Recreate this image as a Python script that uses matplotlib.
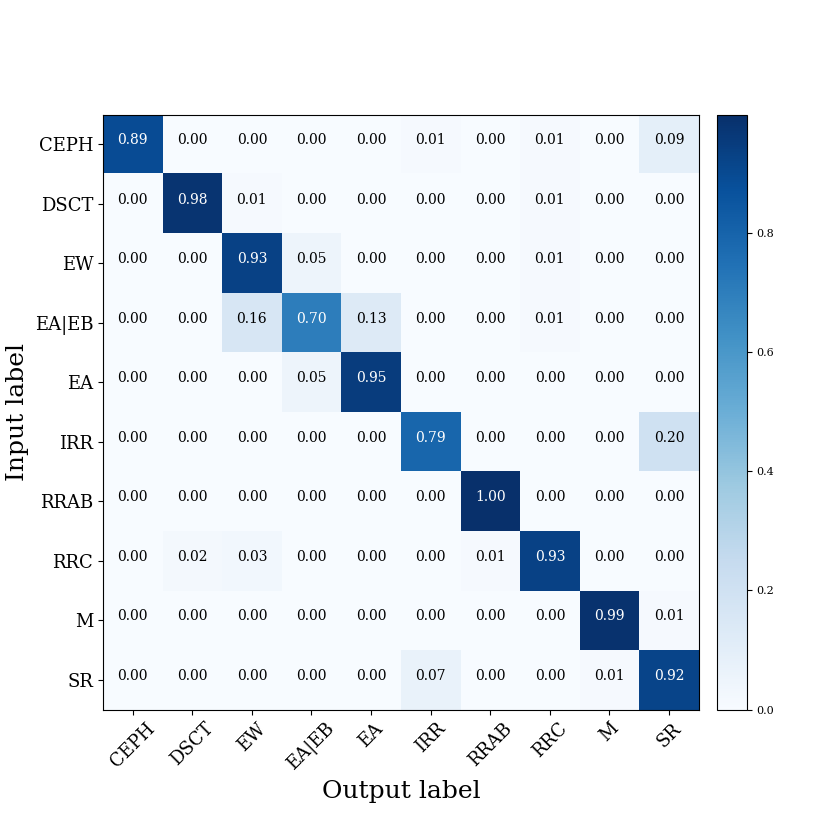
import numpy as np
import matplotlib
matplotlib.use("Agg")
import matplotlib.pyplot as plt

plt.rcParams["font.family"] = "DejaVu Serif"

classes = ["CEPH", "DSCT", "EW", "EA|EB", "EA", "IRR", "RRAB", "RRC", "M", "SR"]

cm = np.array([
    [0.89, 0.00, 0.00, 0.00, 0.00, 0.01, 0.00, 0.01, 0.00, 0.09],
    [0.00, 0.98, 0.01, 0.00, 0.00, 0.00, 0.00, 0.01, 0.00, 0.00],
    [0.00, 0.00, 0.93, 0.05, 0.00, 0.00, 0.00, 0.01, 0.00, 0.00],
    [0.00, 0.00, 0.16, 0.70, 0.13, 0.00, 0.00, 0.01, 0.00, 0.00],
    [0.00, 0.00, 0.00, 0.05, 0.95, 0.00, 0.00, 0.00, 0.00, 0.00],
    [0.00, 0.00, 0.00, 0.00, 0.00, 0.79, 0.00, 0.00, 0.00, 0.20],
    [0.00, 0.00, 0.00, 0.00, 0.00, 0.00, 0.998, 0.00, 0.00, 0.00],
    [0.00, 0.02, 0.03, 0.00, 0.00, 0.00, 0.01, 0.93, 0.00, 0.00],
    [0.00, 0.00, 0.00, 0.00, 0.00, 0.00, 0.00, 0.00, 0.99, 0.01],
    [0.00, 0.00, 0.00, 0.00, 0.00, 0.07, 0.00, 0.00, 0.01, 0.92],
])

fig = plt.figure(figsize=(8.3, 8.3), dpi=100)
ax = fig.add_axes([0.124, 0.145, 0.718, 0.717])
cax = fig.add_axes([0.864, 0.145, 0.036, 0.717])

# colour range follows the data, so no 1.0 tick on the bar
im = ax.imshow(cm, interpolation="nearest", cmap=plt.cm.Blues, aspect="auto")
cb = fig.colorbar(im, cax=cax)
cb.ax.tick_params(labelsize=8)

ticks = np.arange(len(classes))
ax.set_xticks(ticks)
ax.set_xticklabels(classes, rotation=45, fontsize=13)
ax.set_yticks(ticks)
ax.set_yticklabels(classes, fontsize=13)

thresh = cm.max() / 2.0
for i in range(cm.shape[0]):
    for j in range(cm.shape[1]):
        ax.text(j, i, format(cm[i, j], ".2f"), horizontalalignment="center", fontsize=10,
                color="white" if cm[i, j] > thresh else "black")

ax.set_ylabel("Input label", fontsize=18)
ax.set_xlabel("Output label", fontsize=18)

fig.savefig("out.png", dpi=100)
